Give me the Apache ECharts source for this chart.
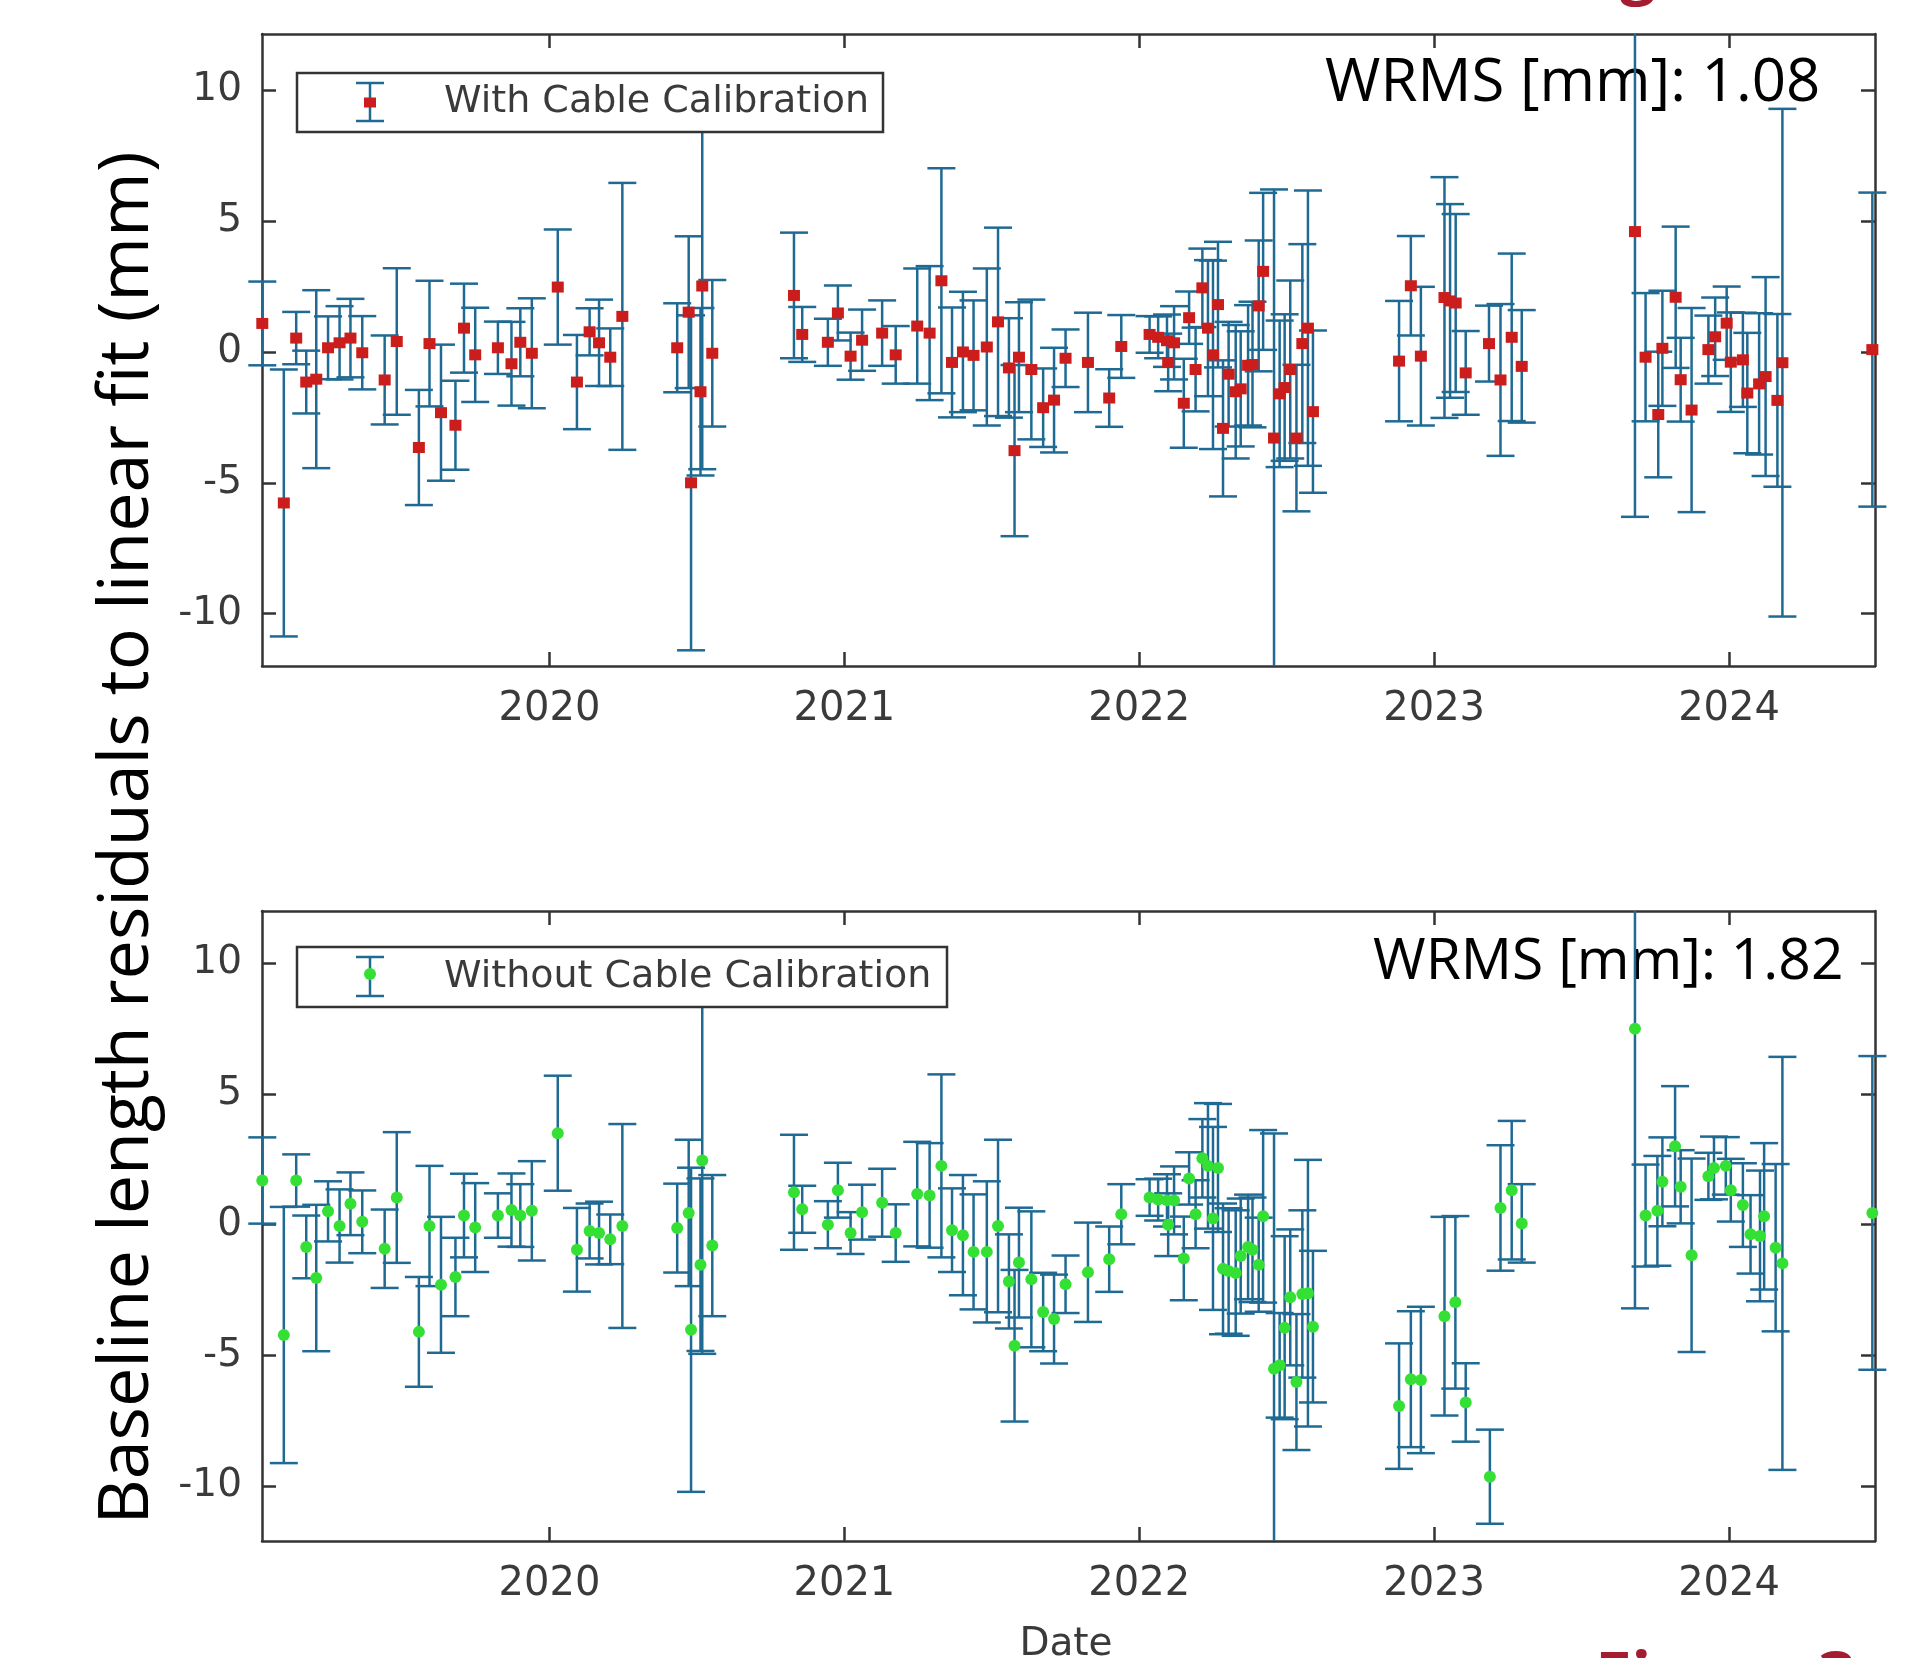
<!DOCTYPE html>
<html>
<head>
<meta charset="utf-8">
<title>Baseline length residuals</title>
<script src="https://cdn.jsdelivr.net/npm/echarts@6.0.0/dist/echarts.min.js"></script>
<style>
  html, body { margin: 0; padding: 0; background: #fff; }
  #chart { width: 1908px; height: 1658px; }
</style>
</head>
<body>
<div id="chart"></div>
<script>
// decimal years, residuals (mm) and 1-sigma errors (mm)
const topDates = [
  2019.026, 2019.099, 2019.141, 2019.175, 2019.209, 2019.249, 2019.288, 2019.325, 2019.365, 2019.441,
  2019.482, 2019.557, 2019.593, 2019.632, 2019.681, 2019.710, 2019.748, 2019.825, 2019.871, 2019.901,
  2019.940, 2020.028, 2020.093, 2020.136, 2020.168, 2020.206, 2020.247, 2020.433, 2020.472, 2020.480,
  2020.512, 2020.518, 2020.552, 2020.829, 2020.857, 2020.944, 2020.978, 2021.021, 2021.060, 2021.128,
  2021.174, 2021.247, 2021.289, 2021.329, 2021.365, 2021.402, 2021.438, 2021.483, 2021.521, 2021.558,
  2021.577, 2021.592, 2021.634, 2021.674, 2021.711, 2021.750, 2021.826, 2021.898, 2021.939, 2022.035,
  2022.064, 2022.094, 2022.098, 2022.118, 2022.151, 2022.169, 2022.191, 2022.214, 2022.233, 2022.250,
  2022.267, 2022.284, 2022.303, 2022.327, 2022.344, 2022.369, 2022.384, 2022.405, 2022.420, 2022.457,
  2022.476, 2022.493, 2022.512, 2022.533, 2022.553, 2022.572, 2022.589, 2022.881, 2022.921, 2022.955,
  2023.035, 2023.054, 2023.073, 2023.107, 2023.186, 2023.225, 2023.263, 2023.297, 2023.681, 2023.717,
  2023.760, 2023.774, 2023.819, 2023.836, 2023.873, 2023.930, 2023.953, 2023.992, 2024.006, 2024.047,
  2024.062, 2024.102, 2024.124, 2024.164, 2024.181, 2024.486
];
const topValues = [
  1.09, -5.77, 0.53, -1.15, -1.04, 0.16, 0.35, 0.53, -0.03, -1.07,
  0.40, -3.65, 0.32, -2.32, -2.80, 0.91, -0.11, 0.16, -0.45, 0.37,
  -0.05, 2.48, -1.15, 0.77, 0.35, -0.20, 1.36, 0.16, 1.52, -5.00,
  -1.52, 2.52, -0.05, 2.16, 0.67, 0.37, 1.49, -0.16, 0.45, 0.72,
  -0.11, 0.99, 0.72, 2.72, -0.40, 0.00, -0.13, 0.19, 1.15, -0.61,
  -3.77, -0.20, -0.67, -2.13, -1.84, -0.24, -0.40, -1.76, 0.21, 0.67,
  0.56, 0.43, -0.40, 0.35, -1.96, 1.31, -0.67, 2.45, 0.91, -0.11,
  1.81, -2.92, -0.85, -1.52, -1.41, -0.51, -0.48, 1.76, 3.08, -3.29,
  -1.60, -1.36, -0.67, -3.29, 0.32, 0.91, -2.28, -0.35, 2.53, -0.16,
  2.08, 1.95, 1.87, -0.80, 0.32, -1.07, 0.56, -0.55, 4.60, -0.20,
  -2.39, 0.14, 2.09, -1.06, -2.22, 0.09, 0.58, 1.10, -0.39, -0.30,
  -1.57, -1.22, -0.94, -1.85, -0.41, 0.09
];
const topErrors = [
  1.6, 5.1, 1.0, 1.2, 3.4, 1.2, 1.4, 1.5, 1.4, 1.7,
  2.8, 2.2, 2.4, 2.6, 1.7, 1.7, 1.8, 1.0, 1.6, 1.3,
  2.1, 2.2, 1.8, 0.9, 1.65, 1.1, 5.1, 1.7, 2.9, 6.4,
  3.2, 7.0, 2.8, 2.4, 1.05, 0.9, 1.05, 0.9, 1.17, 1.25,
  1.1, 2.2, 2.56, 4.3, 2.1, 2.3, 2.1, 3.0, 3.6, 1.9,
  3.27, 2.1, 2.67, 1.5, 2.0, 1.1, 1.9, 1.1, 1.2, 0.7,
  0.8, 1.0, 1.1, 1.4, 1.7, 1.0, 1.6, 1.5, 2.6, 3.6,
  2.4, 2.6, 2.0, 2.55, 2.2, 2.3, 2.4, 2.5, 3.0, 9.5,
  2.8, 2.8, 3.4, 2.8, 3.8, 5.26, 3.1, 2.3, 1.9, 2.65,
  4.6, 3.7, 3.4, 1.6, 1.45, 2.9, 3.2, 2.15, 10.9, 2.45,
  2.4, 2.2, 2.7, 1.6, 3.9, 1.3, 1.5, 1.4, 1.9, 1.8,
  2.3, 2.7, 3.8, 3.3, 9.7, 6.0
];

const bottomDates = [
  2019.026, 2019.099, 2019.141, 2019.175, 2019.209, 2019.249, 2019.288, 2019.325, 2019.365, 2019.441,
  2019.482, 2019.557, 2019.593, 2019.632, 2019.681, 2019.710, 2019.748, 2019.825, 2019.871, 2019.901,
  2019.940, 2020.028, 2020.093, 2020.136, 2020.168, 2020.206, 2020.247, 2020.433, 2020.472, 2020.480,
  2020.512, 2020.518, 2020.552, 2020.829, 2020.857, 2020.944, 2020.978, 2021.021, 2021.060, 2021.128,
  2021.174, 2021.247, 2021.289, 2021.329, 2021.365, 2021.402, 2021.438, 2021.483, 2021.521, 2021.558,
  2021.577, 2021.592, 2021.634, 2021.674, 2021.711, 2021.750, 2021.826, 2021.898, 2021.939, 2022.035,
  2022.064, 2022.094, 2022.098, 2022.118, 2022.151, 2022.169, 2022.191, 2022.214, 2022.233, 2022.250,
  2022.267, 2022.284, 2022.303, 2022.327, 2022.344, 2022.369, 2022.384, 2022.405, 2022.420, 2022.457,
  2022.476, 2022.493, 2022.512, 2022.533, 2022.553, 2022.572, 2022.589, 2022.881, 2022.921, 2022.955,
  2023.035, 2023.072, 2023.107, 2023.189, 2023.225, 2023.263, 2023.297, 2023.681, 2023.717, 2023.757,
  2023.774, 2023.817, 2023.836, 2023.873, 2023.930, 2023.949, 2023.989, 2024.006, 2024.047, 2024.073,
  2024.105, 2024.119, 2024.158, 2024.181, 2024.486
];
const bottomValues = [
  1.69, -4.22, 1.69, -0.85, -2.04, 0.51, -0.05, 0.80, 0.11, -0.92,
  1.04, -4.10, -0.05, -2.30, -2.00, 0.35, -0.11, 0.35, 0.56, 0.35,
  0.53, 3.50, -0.96, -0.24, -0.32, -0.56, -0.05, -0.13, 0.45, -4.02,
  -1.53, 2.46, -0.80, 1.24, 0.59, 0.00, 1.32, -0.32, 0.48, 0.84,
  -0.32, 1.17, 1.12, 2.25, -0.21, -0.40, -1.04, -1.04, -0.05, -2.17,
  -4.63, -1.45, -2.09, -3.34, -3.61, -2.28, -1.82, -1.32, 0.40, 1.04,
  0.96, 0.93, 0.00, 0.93, -1.29, 1.77, 0.40, 2.54, 2.25, 0.24,
  2.17, -1.69, -1.77, -1.85, -1.20, -0.85, -0.96, -1.53, 0.32, -5.51,
  -5.38, -3.94, -2.78, -6.02, -2.65, -2.62, -3.90, -6.94, -5.91, -5.94,
  -3.50, -2.97, -6.80, -9.64, 0.64, 1.32, 0.05, 7.50, 0.35, 0.53,
  1.64, 3.00, 1.45, -1.17, 1.85, 2.17, 2.25, 1.32, 0.75, -0.37,
  -0.43, 0.32, -0.88, -1.48, 0.45
];
const bottomErrors = [
  1.65, 4.9, 1.0, 1.2, 2.8, 1.15, 1.4, 1.2, 1.2, 1.5,
  2.5, 2.1, 2.3, 2.6, 1.5, 1.6, 1.7, 0.85, 1.4, 1.2,
  1.9, 2.2, 1.6, 1.05, 1.2, 0.95, 3.9, 1.7, 2.8, 6.2,
  3.3, 7.4, 2.7, 2.2, 0.9, 0.9, 1.05, 0.8, 1.05, 1.3,
  1.1, 2.0, 2.0, 3.5, 1.6, 2.3, 2.2, 2.7, 3.3, 1.8,
  2.9, 2.1, 2.6, 1.5, 1.7, 1.1, 1.9, 1.25, 1.15, 0.7,
  0.8, 1.0, 1.2, 1.3, 1.6, 1.0, 1.3, 1.5, 2.4, 3.5,
  2.45, 2.5, 2.4, 2.4, 2.2, 2.0, 2.0, 1.8, 3.3, 9.0,
  2.0, 3.5, 2.6, 2.6, 3.2, 5.1, 2.9, 2.4, 2.6, 2.8,
  3.8, 3.3, 1.5, 1.8, 2.4, 2.65, 1.5, 10.7, 1.95, 2.1,
  1.7, 2.3, 1.4, 3.7, 0.9, 1.2, 1.1, 1.2, 1.6, 1.5,
  2.5, 2.8, 3.2, 7.9, 6.0
];

const yearTicks = [2020, 2021, 2022, 2023, 2024];
const mmTicks = [-10, -5, 0, 5, 10];

const barColor = '#1f6a93';
const frameColor = '#333333';
const labelColor = '#3a3a3a';
const capHalf = 14;

function renderErrorBar(params, api) {
  const x = api.value(0);
  const lo = api.coord([x, api.value(1)]);
  const hi = api.coord([x, api.value(2)]);
  const cs = params.coordSys;
  const top = cs.y, bottom = cs.y + cs.height;
  const px = lo[0];
  const style = { stroke: barColor, lineWidth: 2.5 };
  const parts = [{
    type: 'line',
    shape: { x1: px, y1: Math.max(hi[1], top), x2: px, y2: Math.min(lo[1], bottom) },
    style: style
  }];
  // caps only when the end lies inside the plot
  if (hi[1] >= top) parts.push({ type: 'line', shape: { x1: px - capHalf, y1: hi[1], x2: px + capHalf, y2: hi[1] }, style: style });
  if (lo[1] <= bottom) parts.push({ type: 'line', shape: { x1: px - capHalf, y1: lo[1], x2: px + capHalf, y2: lo[1] }, style: style });
  return { type: 'group', children: parts };
}

function xAxes(gridIndex) {
  const common = {
    type: 'value', gridIndex: gridIndex, min: 2019.025, max: 2024.495,
    axisLine: { show: true, onZero: false, lineStyle: { color: frameColor, width: 2.5 } },
    axisTick: { show: true, inside: true, length: 14, customValues: yearTicks, lineStyle: { color: frameColor, width: 2.5 } },
    splitLine: { show: false }
  };
  return [
    Object.assign({}, common, {
      position: 'bottom',
      axisLabel: {
        show: true, customValues: yearTicks, margin: 24, color: labelColor,
        fontSize: 40, fontFamily: 'DejaVu Sans',
        formatter: function (v) { return String(Math.round(v)); }
      }
    }),
    Object.assign({}, common, { position: 'top', axisLabel: { show: false } })
  ];
}

function yAxes(gridIndex, yMin, yMax) {
  const common = {
    type: 'value', gridIndex: gridIndex, min: yMin, max: yMax,
    axisLine: { show: true, onZero: false, lineStyle: { color: frameColor, width: 2.5 } },
    axisTick: { show: true, inside: true, length: 14, customValues: mmTicks, lineStyle: { color: frameColor, width: 2.5 } },
    splitLine: { show: false }
  };
  return [
    Object.assign({}, common, {
      position: 'left',
      axisLabel: { show: true, customValues: mmTicks, margin: 20, color: labelColor, fontSize: 39, fontFamily: 'DejaVu Sans' }
    }),
    Object.assign({}, common, { position: 'right', axisLabel: { show: false } })
  ];
}

function panelSeries(dates, values, errors, axisIndex, markerColor, symbol, size) {
  return [
    {
      type: 'custom',
      xAxisIndex: axisIndex, yAxisIndex: axisIndex,
      clip: false,
      z: 2,
      silent: true,
      renderItem: renderErrorBar,
      data: dates.map(function (d, i) { return [d, values[i] - errors[i], values[i] + errors[i]]; })
    },
    {
      type: 'scatter',
      xAxisIndex: axisIndex, yAxisIndex: axisIndex,
      z: 3,
      silent: true,
      symbol: symbol,
      symbolSize: size,
      itemStyle: { color: markerColor, opacity: 1 },
      data: dates.map(function (d, i) { return [d, values[i]]; })
    }
  ];
}

function legendBox(x, y, w, h, markerColor, symbolShape, text) {
  const iconX = 370;
  const mid = y + h / 2;
  const lineStyle = { stroke: barColor, lineWidth: 2.5 };
  const marker = symbolShape === 'rect'
    ? { type: 'rect', z: 101, shape: { x: iconX - 6, y: mid - 5, width: 12, height: 10 }, style: { fill: markerColor } }
    : { type: 'circle', z: 101, shape: { cx: iconX, cy: mid - 3, r: 6 }, style: { fill: markerColor } };
  return [
    { type: 'rect', z: 100, shape: { x: x, y: y, width: w, height: h }, style: { fill: '#fff', stroke: frameColor, lineWidth: 2.5 } },
    { type: 'line', z: 101, shape: { x1: iconX, y1: y + 10, x2: iconX, y2: y + h - 11 }, style: lineStyle },
    { type: 'line', z: 101, shape: { x1: iconX - 14, y1: y + 10, x2: iconX + 14, y2: y + 10 }, style: lineStyle },
    { type: 'line', z: 101, shape: { x1: iconX - 14, y1: y + h - 11, x2: iconX + 14, y2: y + h - 11 }, style: lineStyle },
    marker,
    { type: 'text', z: 101, x: 444, y: mid, style: { text: text, fill: labelColor, font: '38px "DejaVu Sans"', textVerticalAlign: 'middle' } }
  ];
}

const chart = echarts.init(document.getElementById('chart'));

const option = {
  backgroundColor: '#ffffff',
  animation: false,
  grid: [
    { left: 262, right: 33, top: 34, height: 632 },
    { left: 262, right: 33, top: 911, height: 630 }
  ],
  xAxis: xAxes(0).concat(xAxes(1)),
  yAxis: yAxes(0, -12, 12.15).concat(yAxes(1, -12.1, 12)),
  series: [].concat(
    panelSeries(topDates, topValues, topErrors, 0, '#cc1d1d', 'rect', [12, 11]),
    panelSeries(bottomDates, bottomValues, bottomErrors, 2, '#35e035', 'circle', 12)
  ),
  graphic: [].concat(
    legendBox(297, 73, 586, 59, '#cc1d1d', 'rect', 'With Cable Calibration'),
    legendBox(297, 947, 650, 60, '#35e035', 'circle', 'Without Cable Calibration'),
    [
      { type: 'text', z: 1, x: 1325, y: 84, style: { text: 'WRMS [mm]: 1.08', fill: '#000', font: '60px "Open Sans"', textVerticalAlign: 'middle' } },
      { type: 'text', z: 1, x: 1373, y: 963, style: { text: 'WRMS [mm]: 1.82', fill: '#000', font: '57px "Open Sans"', textVerticalAlign: 'middle' } },
      {
        type: 'text', x: 128, y: 838, rotation: Math.PI / 2,
        style: { text: 'Baseline length residuals to linear fit (mm)', fill: '#000', font: '70px "Open Sans"', textAlign: 'center', textVerticalAlign: 'middle' }
      },
      { type: 'text', x: 1066, y: 1645, style: { text: 'Date', fill: labelColor, font: '39px "DejaVu Sans"', textAlign: 'center', textVerticalAlign: 'middle' } },
      { type: 'text', x: 1620, y: 6, style: { text: 'g', fill: '#a51c30', font: 'bold 63px "Open Sans"', textVerticalAlign: 'bottom' } },
      { type: 'text', x: 1595, y: 1648, style: { text: 'Figure 3', fill: '#a51c30', font: 'bold 66px "Open Sans"', textVerticalAlign: 'top' } }
    ]
  )
};

chart.setOption(option);
</script>
</body>
</html>
